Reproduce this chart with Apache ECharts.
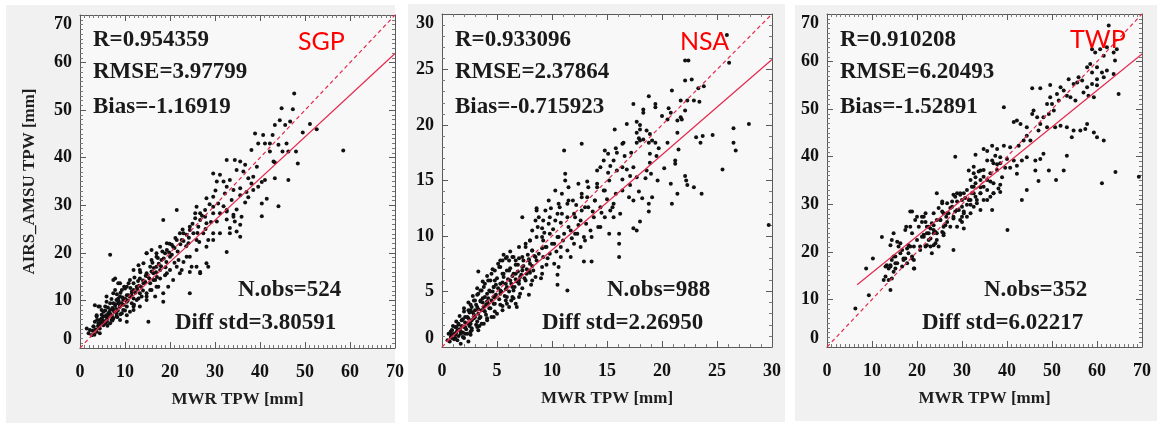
<!DOCTYPE html>
<html>
<head>
<meta charset="utf-8">
<title>AIRS_AMSU vs MWR TPW</title>
<script src="https://cdn.jsdelivr.net/npm/echarts@6/dist/echarts.min.js"></script>
<style>
  html, body { margin: 0; padding: 0; background: #ffffff; }
  #main { width: 1157px; height: 427px; }
</style>
</head>
<body>
<div id="main"></div>
<script>
// ---- data ----
var sites = ['SGP', 'NSA', 'TWP'];
var axisMax = [70, 30, 70];
var axisStep = [10, 5, 10];
var minorSplit = [10, 5, 10];
var xTitle = 'MWR TPW [mm]';
var yTitle = 'AIRS_AMSU TPW [mm]';

var sgpStats = ['R=0.954359', 'RMSE=3.97799', 'Bias=-1.16919', 'N.obs=524', 'Diff std=3.80591'];
var nsaStats = ['R=0.933096', 'RMSE=2.37864', 'Bias=-0.715923', 'N.obs=988', 'Diff std=2.26950'];
var twpStats = ['R=0.910208', 'RMSE=6.20493', 'Bias=-1.52891', 'N.obs=352', 'Diff std=6.02217'];

// regression line end points
var sgpFit = [[2.2, 2.5], [70, 61.9]];
var nsaFit = [[0.4, 0.5], [30, 25.9]];
var twpFit = [[6.7, 13.1], [70, 61.6]];

var sgpPoints = [
  [29.6,36.7],[30.4,35],[29.6,31.8],[28.1,31.5],[30.7,30.4],[29.6,28.3],[27.8,27.6],[26.7,26.9],[28.1,26.2],[30.4,26.6],
  [25.9,29.7],[25.6,28.3],[26.3,25.5],[24.4,24.8],[25.2,24.1],[23.7,23.8],[22.2,24.1],[22.6,22.7],[24.1,22],[25.9,22.7],
  [27.4,24.1],[28.5,22.7],[29.6,24.1],[21.5,29],[18.5,26.9],[20.7,21.3],[19.3,22],[17.8,21.3],[17,19.9],[18.9,19.9],
  [20,19.2],[21.9,18.5],[23.7,19.2],[24.8,17.1],[22.6,16.4],[26.7,16],[28.5,17.1],[24.4,11.5],[14.8,19.9],[15.9,18.5],
  [14.1,17.8],[15.6,17.1],[17,17.1],[13.3,16.4],[14.8,15.7],[16.3,15.7],[17.8,16.4],[19.3,15.7],[13.3,14.6],[11.9,13.6],
  [10.4,12.9],[12.6,12.9],[14.1,13.6],[16.3,14.3],[17,12.9],[15.6,12.2],[6.7,19.6],[7.8,14.6],[8.5,13.6],[9.3,12.2],
  [7.4,11.5],[5.9,10.8],[8.5,10.4],[10.4,11.1],[11.5,11.8],[11.9,10.4],[13.3,11.5],[14.8,10.8],[18.5,9.7],[3.3,9],
  [4.4,8.7],[5.9,9.7],[7.4,9.4],[8.9,9],[10.4,9.7],[5.2,7.6],[6.7,8],[8.1,7.3],[9.6,8],[11.1,7.6],
  [11.9,8.7],[3.7,6.6],[4.8,6.2],[5.9,6.6],[7.4,6.2],[8.9,5.9],[10.4,5.5],[15.2,5.5],[4.1,5.2],[5.2,4.8],
  [6.7,5.2],[3,4.5],[4.4,4.1],[2.2,3.8],[3.7,3.4],[1.5,4.1],[2.6,2.7],[4.4,3.1],[1.9,3.1],[32.6,20.2],
  [33.3,24.1],[31.1,36.4],
  [47.6,53.5],[44.8,50.4],[47.3,50.2],[44.4,47.9],[46.7,47.6],[45.6,46.9],[51.1,47.1],[52.6,46],[49.5,45.3],[43.3,46.9],
  [38.9,45.1],[40.7,44.8],[42.8,44.8],[42.2,43],[44.1,42.7],[45.9,43],[48,41.3],[58.5,41.5],[48.4,38.8],[46.3,41.3],
  [45,41.3],[42.2,41.3],[38.1,41.6],[39.6,43],[41.1,43],[43,39.2],[43.3,39],[46.3,35.3],[43.3,35.7],[40.4,34.9],
  [41.1,35.3],[38.5,36],[39.3,38.1],[36.7,38.5],[35.6,39.2],[34.4,39.5],[32.6,39.5],[34.8,37.4],[36.3,37.1],[37.4,35.7],
  [38.1,34.6],[39.6,33.9],[41.5,31.4],[40.4,30.4],[44.1,29.8],[40.4,27.7],[35.6,32.1],[34.1,33.2],[32.6,33.9],[31.9,35],
  [33.3,35.3],[32.2,32.5],[33.7,31.1],[35.6,33.6],[37,32.8],[38.5,33.2],[36.7,30.6],[37.4,31.7],[34.8,29.1],[34.1,28],
  [35.9,27.6],[32.6,28.7],[31.9,29.8],[34.4,26.6],[35.6,25.9],[32.6,27],[33.3,25.2],
  [4.1,8.7],[7.4,14.3],[7.8,12.2],[8.9,13.6],[10,12.5],[11.1,14.3],[11.9,16.4],[13,17.4],[14.8,19.9],[15.9,20.6],
  [17,19.2],[18.1,18.5],[19.3,20.6],[20.4,21.7],[21.5,22.7],[23,24.1],[24.4,25.5],[25.6,27.3],[26.7,28.3],[27.8,29],
  [29.6,29.7],[31.1,28.3],[32.6,29],[34.1,27.6],[34.8,24.5],[35.6,23.4],[31.1,24.1],[29.6,22.7],[28.1,21.3],[25.9,20.6],
  [24.4,19.2],[23,18.1],[21.5,17.1],[20,16.4],[18.9,15.3],[17.8,14.6],[16.7,14.3],[15.6,13.6],[24.4,16],[25.9,17.1],
  [28.1,17.8],[26.7,15.7],[22.2,15.7],[20.7,14.3],[19.6,12.9],[18.5,11.5],[16.7,10.8],[14.8,10.1],[13.7,10.8],[12.6,10.1],
  [11.5,9.4],[10.4,8.7],[9.6,10.1],[8.5,9.4],[7.4,8],[6.3,7.3],[5.2,6.6],[4.4,5.9],[5.6,5.2],[7,5.9],
  [8.1,6.6],[9.3,7.3],[10.4,6.9],[11.9,8],[13.3,8.7],[14.8,11.5],[15.9,12.2],[17.4,12.9],[11.9,12.2],[10.7,11.1],
  [8.9,10.8],[8.1,10.1],[6.7,9.4],[5.6,8.7],[4.8,8],[3.7,6.9],[3.3,5.5],[3,4.5],
  [3.5,3.9],[4,4.6],[4.6,5.3],[5,5.9],[5.5,5.6],[6,6.1],[6.3,6.8],[6.8,7.1],[7.1,6.7],[7.6,7.6],
  [8,8.2],[8.4,7.9],[8.8,8.6],[9.2,9.4],[9.7,9.1],[10.1,10.3],[10.6,10],[11,10.8],[11.4,11.2],[11.8,11.9],
  [12.3,11.6],[12.7,12.4],[13.1,13.1],[13.6,12.8],[14,14.2],[14.5,13.9],[15,15.1],[15.4,14.6],[15.9,16.1],[16.4,16.8],
  [16.9,15.9],[17.5,17.7],[18,17.2],[18.6,18.8],[19.2,18.1],[19.8,20.1],[20.4,19.6],[21,21],[21.7,20.3],[22.3,21.8],
  [23,22.5],[23.6,21.4],[24.2,23.2],[5.2,5.4],[6,5.5],[6.5,7.5],[7.2,8.4],[7.8,8.9],[8.6,9.9],[9.5,10.6],
  [4.8,7],[5.6,7.9],[6.2,8.5],[7,10.3],[8.2,11.3],[9.8,12.9],[10.8,13.6],[12.1,14.8],[13.4,15.9],[12,9.1],
  [13,10.4],[14,12.1],[9,7.1],[10,7.9],[6.1,4.7],[7.2,5.8],[8.3,6.5],[3.8,5.9],[2.8,3.6],[3.2,2.8],
  [4.3,4.9],[5.8,6.9],[7.9,9.2],[9,11.6],[11.2,12.6],[12.9,14.1],[14.6,15.2],[16.1,17.9],[17.3,18.9],[18.3,20.3],
  [19.9,21.9],[21.2,23.1],[22.8,24.9],[25,26.1],[26.1,24.2],[27.1,27.8],[28.8,30.2],[29.1,26.5],[30.1,33.1],[26.5,22.3],
  [27.9,25],[21,17.9],[19,17],[17.1,14.9]
];

var nsaPoints = [
  [29.7,11],[23.6,13.8],[22.9,14.4],[22.3,14.6],[21.4,13.8],[20.9,12.9],[19.1,13.5],[18.8,12.9],[18.8,12.2],[18,11.3],
  [17.4,10.7],[17.7,10.5],[16.1,9.3],[16.1,8.1],[18.2,13.4],[17.4,13.2],[17,13.5],[14.7,14.1],[14.1,14.4],[13.2,14.9],
  [12.7,18.3],[11.1,17.7],[11.2,15.6],[11.2,15],[11.4,5.1],[10.5,5.6],[10.5,6.5],[10.6,7.2],[12.9,7.7],[13.6,7.7],
  [16.1,10.2],[15.6,11.7],[16.2,12],[15.3,12.3],[14.4,12.6],[13.9,13.2],[13.2,13.5],[12.7,13.8],[11.9,13.2],[11.4,12.9],
  [10.7,12.6],[10.5,12],[9.8,11.7],[9.2,11.4],[8.6,12.3],[8.5,11.4],[7.3,11.7],[12,12],[12.6,11.4],[13,12.6],
  [13.8,11.7],[14.4,10.8],[15.2,10.2],[13.5,10.5],[12.9,9.9],[12.3,10.2],[11.7,10.5],[11.1,10.2],[10.5,9.9],[9.8,10.2],
  [9.2,9.6],[8.6,9.9],[8,9.6],[7.6,9],[8.2,8.7],[9.1,8.9],[9.5,9],[10.2,9.3],[10.8,9],[11.4,8.7],
  [12,9.3],[12.6,9],[11.7,8.1],[10.8,8.1],[9.8,8.4],[9.2,8.1],[8.6,7.8],[8,7.5],[7.4,7.8],[7,8],
  [6.5,8.1],[5.9,8.1],[5.3,7.8],[6.7,7.4],[7.3,6.9],[7.7,6.6],[8.3,6.9],[9.1,7.2],[9.5,7.4],[10.2,7.5],
  [8.2,6],[7.9,4.7],[6.8,3.6],[3.3,6.8],[5.3,7.2],[5.9,6.9],[6.5,6.6],[7.1,6.3],[6.8,5.9],[6.2,6],
  [5.6,6.3],[5,6.2],[4.4,6],[4.7,5.4],[5.3,5.7],[5.9,5.4],[6.5,5.1],[7.1,4.8],[6.5,4.4],[5.9,4.5],
  [5.3,4.8],[4.7,4.5],[4.1,4.8],[3.8,5.4],[3.5,5.1],[3.2,4.7],[2.9,4.2],[2.6,3.8],[3.5,4.2],[4.1,4.1],
  [4.7,3.9],[5.3,3.8],[5.9,3.9],[4.4,3.5],[3.8,3.3],[3.2,3.6],[2.6,3.3],[2,3.2],[2.3,2.7],[2.9,2.9],
  [3.5,2.7],[4.1,2.6],[4.7,2.7],[3.8,2.1],[3.2,2.3],[2.6,2.1],[1.8,2.4],[1.5,2],[2.1,1.8],[2.7,1.7],
  [3.3,1.5],[1.4,1.5],[1.1,1.2],[1.7,1.2],[2.3,1.2],[0.8,0.9],[1.2,0.8],[2,0.8],[2.6,1.1],[0.5,0.6],
  [0.9,1.5],[0.6,1.2],[1.7,0.3],[2.4,0.5],
  [25.9,28.1],[22.1,25.8],[22.4,25.8],[26.1,25.6],[22.1,24],[22.7,24.1],[20.9,23.1],[23.3,23.3],[23.8,23.5],[21.7,22.2],
  [22.3,22.2],[22.9,22.2],[23.4,22.1],[17.4,21.9],[18.8,22.6],[19.4,21.9],[19.4,21.6],[18.3,21.4],[18.3,21.1],[20.6,21.5],
  [20.8,21.1],[20,20.8],[21.7,20.7],[22.1,21.3],[20.5,20.5],[21.4,20.4],[21.8,20.5],[27.9,20.1],[26.5,19.7],[17.7,20.3],
  [18,20],[16.8,20.1],[15.7,19.6],[17.7,19.3],[18,19.6],[18.6,19.5],[18.9,19.2],[17.9,18.8],[18,18.6],[18.3,18.7],
  [17.7,18.4],[18.8,18.4],[19.1,18.6],[19.4,18.4],[20.5,18.4],[19.7,17.9],[21.4,19.3],[21.5,17.8],[23.1,18.9],[23.5,18.4],
  [23.7,19],[24.6,19.1],[26.5,18.4],[26.7,17.7],[25.5,16],[21.2,16.8],[21.2,16.5],[18.9,17.4],[19.5,17.2],[17.2,17.5],
  [16.6,17.2],[16.4,18.3],[16.5,18.4],[15.8,17.9],[14.8,17.7],[15.1,17.4],[15.9,17.5],[15.6,16.8],[15.3,16.3],[14.7,16.8],
  [14.4,16.2],[14.1,15.9],[15.1,15.7],[15.9,15.9],[16.4,16.2],[16.8,16],[17.4,16.2],[18.9,16.6],[18.6,15.9],[19,15.6],
  [17.7,15.3],[17.1,15.4],[16.4,15.1],[22.1,15.4],[22.2,15],
  [8.6,12.5],[8.2,10.5],[9.1,10.7],[9.7,11.1],[10.3,11.4],[10.9,12],[10.6,12.9],[11.5,13.2],[12.7,13.5],[12.7,12.3],
  [13.3,12.6],[12.1,11.7],[11.5,10.8],[12.1,10.2],[13,9.6],[13.6,9.9],[14.2,10.8],[14.8,11.7],[15.5,12.6],[15.8,13.8],
  [14.8,14.1],[13.9,13.2],[14.1,14.7],[15.2,15],[13.3,14.4],[12.4,14.7],[11.5,14.4],[10.9,13.8],[10.3,14.1],[9.7,13.2],
  [9.4,12.3],[8.8,11.7],[8,9.6],[7.6,9.3],[7,9],[6.4,8.1],[6.1,7.8],[5.8,8],[5.5,7.8],[5.2,7.2],
  [4.8,6.9],[4.5,6.6],[4.2,6],[3.9,5.7],[3.6,5.1],[3.3,4.8],[3,4.2],[2.7,3.6],[2.4,3.3],[2.1,2.7],
  [1.8,2.4],[1.5,2.1],[1.2,1.8],[0.9,1.5],[0.8,1.2],[9.1,6.6],[8.5,6.3],[7.9,6.9],[7.3,7.2],[6.7,6.6],
  [7.6,6],[7,5.7],[6.4,5.4],[5.8,5.7],[5.3,5.1],[4.8,4.5],[4.2,3.9],[3.8,3.6],[3.3,3],[2.9,2.6],
  [2.4,2.1],[2,1.8],[1.7,1.4],[1.2,1.1],[0.9,0.8],[1.4,0.6],[2.1,1.2],[2.7,1.5],[3.2,1.8],[3.6,2.1],
  [4.1,2.4],[4.5,2.7],[5,3],[5.5,3.3],[6.1,3.6],[6.7,3.9],[7,4.5],[6.4,4.5],[5.8,4.2],[6.1,6.9],
  [5.5,6.6],[4.8,6],[8.2,8.7],[8.8,8.4],[9.4,9],[10,9.3],[10.6,9.9],[9.1,9.9],[8.5,8.1],[7.9,7.8],
  [7.3,8.1],[6.7,7.8],[3,3.3],[3.5,4.1],[3.9,4.5],[4.4,5],[4.7,5.4],
  [0.7,0.5],[0.9,1.1],[1.1,0.7],[1.3,1.3],[1.5,1],[1.6,1.6],[1.8,1.9],[1.9,1.3],[2.1,2.2],[2.2,1.6],
  [2.4,2.6],[2.5,1.9],[2.7,2.4],[2.8,3.1],[3,2.7],[3.1,2],[3.3,3.4],[3.4,2.6],[3.6,3.3],[3.7,4],
  [3.9,3.2],[4,3.8],[4.2,4.4],[4.3,3.5],[4.5,4.2],[4.6,5],[4.8,3.9],[4.9,4.7],[5.1,5.3],[5.2,4.3],
  [5.4,5],[5.5,5.8],[5.7,4.6],[5.8,5.2],[6,6.1],[6.1,5],[6.3,5.7],[6.4,6.4],[6.6,5.4],[6.7,6.1],
  [6.9,6.8],[7,6],[7.2,6.5],[7.4,7.3],[7.5,6.2],[7.7,7],[7.9,7.9],[8,6.7],[8.2,7.3],[8.4,8.2],
  [1,1.9],[1.3,2.3],[1.6,2.8],[2,3.5],[2.4,4],[2.8,4.6],[3.2,5.3],[3.7,5.9],[4.1,6.4],[4.6,7],
  [5.1,7.5],[5.6,8.3],[6.2,8.6],[1.9,0.9],[2.6,1.4],[3.4,1.9],[4,2.9],[4.8,3.2],[5.5,3.7],[6.3,4.2],
  [7.3,5.3],[8.1,5.6],[9,6.2],[9.6,8],[10.4,8.6],[11,9.6],[11.8,9.8],[12.4,11],[13.1,11.1],[13.7,12.2],
  [14.5,12.1],[15,13.3],[15.6,12.9],[16.4,14.1],[17.1,14.6],[17.9,14],[18.5,15.2],[19.6,15],[20.2,16.1],[20.8,14.7],
  [8.7,10.8],[9.3,10.3],[10.1,10.6],[10.8,11.2],[11.4,11.7],[12.2,12.8],[9.9,12.5],[7.8,8.3],[6.9,7.4],[6.2,7.1],
  [5.6,6.6],[4.9,5.6],[4.3,5.1],[3.7,4.4],[3.1,3.8],[2.5,3.1],[1.9,2.5],[1.3,1.8],[0.8,1.4]
];

var twpPoints = [
  [6.3,8.1],[40.1,24.6],[43.3,30.9],[44.4,33],[61.1,34.4],[50.9,35.1],[69.3,35.8],
  [62.6,67.6],[58.9,62.6],[59.6,61.9],[60.7,62.6],[62.2,63],[63.7,61.9],[64.4,62.6],[61.5,61.2],[58.5,59.5],[57.8,58.8],
  [58.9,57.7],[60,58.8],[61.1,57.7],[62.2,58.1],[64,60.2],[63.7,57.4],[61.5,56.7],[60,56.3],[58.9,55.3],[60,55],
  [57.8,54.6],[56.7,56],[55.9,56.7],[55.6,55.6],[54.8,55.3],[57,53.5],[59.3,52.5],[58.1,52.8],[55.2,51.8],[54.1,52.5],
  [53.3,52.8],[52.6,53.9],[53.7,56.3],[51.9,54.6],[51.1,53.2],[51.5,51.8],[50,51.1],[48.9,51.1],[49.6,52.5],[50.4,49.7],
  [49.3,49],[48.1,48.3],[46.7,48.3],[45.9,49.7],[45.6,49],[47.4,46.9],[48.9,46.2],[50.7,46.2],[51.9,46.5],[53.3,46.2],
  [54.8,45.5],[54.4,44.1],[56.3,45.5],[57.4,45.8],[57.8,46.9],[59.3,45.1],[60,44.1],[61.5,43.4],[47,45.5],[44.4,46.2],
  [43,46.9],[42.2,47.6],[41.5,47.3],[39.3,50.4],[45.6,54.4],[47.4,54.4],[49.6,55.1],[64.8,53.2],[64.1,36.8],[44.4,44.4],
  [45.2,43.4],[43.7,43.4],[42.6,42.3],[40.7,42],[39.3,42.3],[37.8,41.6],[36.7,42.3],[35.6,41.2],[34.8,41.6],[37.4,40.2],
  [38.5,39.9],[40,39.5],[41.5,39.2],[43.3,39.2],[44.4,39.9],[46.3,39.2],[47.4,39.5],[48.1,40.6],[40.7,37.7],[42.2,38.1],
  [39.6,37.7],[37.8,38.4],[36.7,39.2],[35.6,39.2],[34.1,37.1],[33,35.7],[31.5,37.1],[38.9,35.7],[42.2,36.4],[46.3,37.1],
  [47,34.9],[49.3,37.1],[52.6,37.1],[53.3,40.2],
  [9.3,10.9],[8.7,16.5],[10.2,18.6],[12.2,23.1],[13,14.8],[14.1,17.2],[13.3,17.2],[13.7,16.5],[14.4,18.3],[15.2,19],
  [15.9,21.1],[16.3,21.8],[14.4,22.5],[14.1,21.4],[15.6,17.6],[15.2,16.5],[14.8,15.8],[17,18.3],[17.4,18.6],[18.1,19.7],
  [17.8,20.7],[18.5,21.1],[19.4,16.5],[19.3,18.3],[18.9,18.6],[16.7,20.4],[17.6,25.3],[18.9,28.5],[20,27.4],[21.1,26.3],
  [20.4,25.3],[21.9,26.3],[21.5,27.4],[21.1,23.2],[22.2,23.9],[22.6,25.3],[23,24.9],[23.7,25.6],[23.7,23.9],[24.1,24.2],
  [24.4,22.5],[22.6,22.5],[21.9,21.1],[20.7,20.4],[23,21.1],[23.7,21.4],[24.8,21.1],[21.5,23.6],[25.2,26.7],[25.9,25.3],
  [25.6,24.2],[26.3,25.6],[25.9,23.5],[26.5,27.4],[25.6,30.2],[25.6,28.5],[26.7,28.1],[27.4,29.2],[28.1,27.4],[28.5,28.5],
  [28.1,20.4],[28.1,32],[27.8,30.6],[28.9,30.6],[29.6,32],[30.4,32.3],[30,29.5],[29.3,28.8],[30.4,28.5],[30,26.3],
  [30.4,24.9],[31.1,27.4],[31.9,29.9],[31.5,30.9],[32.2,32.3],[32.6,33.7],[33,31.6],[33.3,30.2],[34.1,32.3],[34.8,33.7],
  [35.6,30.9],[36.7,28.8],[37,32.3],[36.3,34.8],[34.8,35.8],[32.6,36.5],[28.5,40],
  [37,38.6],[38.5,38.6],[37.8,37.2],[36.3,36.5],[34.8,37.2],[33.7,36.9],[32.6,37.9],[33,40.4],[34.1,35.1],[35.6,35.1],
  [37,34.4],[38.5,34.1],[34.1,33.6],[33,34.4],[31.9,35.1],[32.2,33.7],[31.1,33],[32.6,32.3],[34.1,32.3],[35.6,33],
  [37,32.3],[38.5,32.6],[38.1,33.3],[36.3,31.6],[34.8,30.9],[33.3,30.9],[31.9,30.9],[30.7,31.3],[31.1,29.9],[32.6,29.5],
  [34.1,28.8],[31.9,28.1],[30.4,28.1],
  [29.6,32.3],[28.9,32.3],[30,30.9],[28.5,31.6],[28.9,28.8],[27.8,29.5],[26.7,30.2],[25.6,30.6],[24.4,32.3],[27,28.1],
  [25.9,28.1],[24.8,29.2],[23.7,28.1],[25.2,26.7],[26.7,26.3],[28.1,27],[29.6,26.7],[27.4,25.3],[28.9,25.3],[30,27.4],
  [24.4,26.7],[23.3,26],[22.2,25.3],[23.7,24.6],[22.6,23.9],[24.4,23.9],[25.9,23.9],[21.5,23.2],[23,22.8],[24.1,21.8],
  [23.3,19.7],[22.2,21.4],[20.7,21.1],[20,22.5],[18.9,23.9],[21.1,27.4],[21.9,28.1],[18.5,28.5],[19.6,26.7],[18.5,25.3],
  [17.4,24.6],[18.1,21.4],[19.3,21.1],[18.9,19],[19.3,16.5],[17.8,17.6],[17,18.6],[16.3,19.7],[15.6,22.1],[15.2,17.6],
  [16.7,16.9],[14.8,19],[14.1,16.9],[13,16.9],[13.7,14.1],[12.6,14.1],[14.4,14.4],[14.1,12],[14.8,23.9]
];

var allStats = [sgpStats, nsaStats, twpStats];
var allFits = [sgpFit, nsaFit, twpFit];
var allPoints = [sgpPoints, nsaPoints, twpPoints];

// ---- layout (pixels) ----
var layout = [
  { bg: [6, 5, 389, 418], left: 80, top: 15, width: 315, height: 333, statX: 93, nobsX: 238, diffX: 175, siteX: 298, siteY: 42 },
  { bg: [408, 4, 377, 418], left: 442, top: 14, width: 330, height: 333, statX: 455, nobsX: 607, diffX: 542, siteX: 680, siteY: 42 },
  { bg: [795, 5, 362, 416], left: 827, top: 14, width: 315, height: 333, statX: 840, nobsX: 984, diffX: 922, siteX: 1070, siteY: 40 }
];
var statY = [40, 72, 107, 290, 323];

var serif = '"Liberation Serif", "DejaVu Serif", serif';
var lineRed = '#e52a4d';
var frame = '#5a5a5a';

var chart = echarts.init(document.getElementById('main'), null, { renderer: 'canvas' });

var grids = [], xAxes = [], yAxes = [], series = [], graphics = [];

function makeAxis(i, pos, withLabel, isY) {
  var ax = {
    gridIndex: i,
    type: 'value',
    position: pos,
    min: 0,
    max: axisMax[i],
    interval: axisStep[i],
    axisLine: { show: true, onZero: false, lineStyle: { color: frame, width: 1 } },
    axisTick: { show: true, inside: true, length: 6, lineStyle: { color: frame, width: 1 } },
    minorTick: { show: true, splitNumber: minorSplit[i], length: 3, lineStyle: { color: '#7a7a7a', width: 1 } },
    splitLine: { show: false },
    minorSplitLine: { show: false },
    axisLabel: {
      show: withLabel,
      color: '#111111',
      fontFamily: serif,
      fontWeight: 'bold',
      fontSize: 18,
      margin: isY ? 8 : 15
    }
  };
  if (isY) {
    ax.axisLabel.verticalAlignMinLabel = 'bottom';
    ax.axisLabel.verticalAlignMaxLabel = 'top';
  }
  return ax;
}

for (var i = 0; i < 3; i++) {
  var L = layout[i];
  grids.push({
    left: L.left, top: L.top, width: L.width, height: L.height,
    containLabel: false, outerBoundsMode: 'none',
    show: true, backgroundColor: '#f8f8f8', borderWidth: 0
  });

  var xb = makeAxis(i, 'bottom', true, false);
  xb.name = xTitle;
  xb.nameLocation = 'middle';
  xb.nameGap = 43;
  xb.nameTextStyle = { fontFamily: serif, fontWeight: 'bold', fontSize: 17, color: '#1e1e1e' };
  xAxes.push(xb);
  xAxes.push(makeAxis(i, 'top', false, false));

  var yl = makeAxis(i, 'left', true, true);
  if (i === 0) {
    yl.name = yTitle;
    yl.nameLocation = 'middle';
    yl.nameGap = 42;
    yl.nameRotate = 90;
    yl.nameTextStyle = { fontFamily: serif, fontWeight: 'bold', fontSize: 17, color: '#1e1e1e' };
  }
  yAxes.push(yl);
  yAxes.push(makeAxis(i, 'right', false, true));

  series.push({
    type: 'scatter',
    xAxisIndex: 2 * i, yAxisIndex: 2 * i,
    data: allPoints[i],
    symbol: 'circle',
    symbolSize: 4,
    itemStyle: { color: '#111111', opacity: 1 },
    silent: true,
    z: 3
  });
  series.push({
    type: 'line',
    xAxisIndex: 2 * i, yAxisIndex: 2 * i,
    data: [[0, 0], [axisMax[i], axisMax[i]]],
    symbol: 'none',
    lineStyle: { color: lineRed, width: 1.2, type: [4, 3] },
    silent: true,
    z: 4
  });
  series.push({
    type: 'line',
    xAxisIndex: 2 * i, yAxisIndex: 2 * i,
    data: allFits[i],
    symbol: 'none',
    lineStyle: { color: lineRed, width: 1.2 },
    silent: true,
    z: 4
  });

  // panel background
  graphics.push({
    type: 'rect', z: -10, silent: true,
    shape: { x: L.bg[0], y: L.bg[1], width: L.bg[2], height: L.bg[3] },
    style: { fill: '#f1f1f1' }
  });

  // statistics text
  var xs = [L.statX, L.statX, L.statX, L.nobsX, L.diffX];
  for (var k = 0; k < 5; k++) {
    graphics.push({
      type: 'text', z: 10, silent: true,
      x: xs[k], y: statY[k],
      style: {
        text: allStats[i][k],
        font: 'bold 23px ' + serif,
        fill: '#1a1a1a',
        verticalAlign: 'middle'
      }
    });
  }
  // site label
  graphics.push({
    type: 'text', z: 10, silent: true,
    x: L.siteX, y: L.siteY,
    style: {
      text: sites[i],
      font: '25px Lato, "Open Sans", sans-serif',
      fill: '#ff0000',
      verticalAlign: 'middle'
    }
  });
}

chart.setOption({
  animation: false,
  backgroundColor: '#ffffff',
  grid: grids,
  xAxis: xAxes,
  yAxis: yAxes,
  series: series,
  graphic: graphics
});
</script>
</body>
</html>
